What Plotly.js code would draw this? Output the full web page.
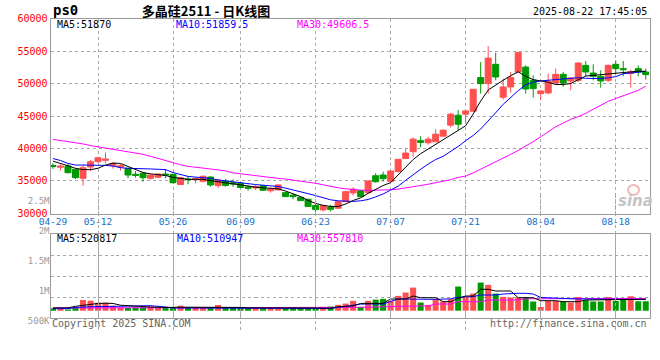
<!DOCTYPE html>
<html><head><meta charset="utf-8">
<script src="https://cdn.plot.ly/plotly-3.0.1.min.js"></script>
<style>html,body{margin:0;padding:0;background:#fff;}#chart{width:660px;height:360px;}</style>
</head><body><div id="chart"></div>
<script>
const dates = ['04-29','04-30','05-06','05-07','05-08','05-09','05-12','05-13','05-14','05-15','05-16','05-19','05-20','05-21','05-22','05-23','05-26','05-27','05-28','05-29','05-30','06-03','06-04','06-05','06-06','06-09','06-10','06-11','06-12','06-13','06-16','06-17','06-18','06-19','06-20','06-23','06-24','06-25','06-26','06-27','06-30','07-01','07-02','07-03','07-04','07-07','07-08','07-09','07-10','07-11','07-14','07-15','07-16','07-17','07-18','07-21','07-22','07-23','07-24','07-25','07-28','07-29','07-30','07-31','08-01','08-04','08-05','08-06','08-07','08-08','08-11','08-12','08-13','08-14','08-15','08-18','08-19','08-20','08-21','08-22'];
const open  = [37380,37120,37300,36800,35410,37150,37960,38180,37350,37150,36950,36030,36180,35410,35570,36070,36030,34460,35310,35200,34950,35610,34280,35000,34740,34650,34080,33930,34280,33510,33620,33200,32810,32500,32190,31240,30550,30980,30810,31820,33160,33510,33200,35810,35920,34950,36430,38450,39500,41210,40880,41030,41900,43590,45120,45280,45740,50910,49990,52950,47890,49470,51770,52530,50490,48450,48550,50080,51410,50390,50490,52790,51610,51110,50490,52950,52290,51520,52290,51770];
const high  = [37720,37560,37560,36890,37560,38220,38730,39400,37870,37610,36990,36530,36340,36030,36180,36840,36120,35610,35660,35610,35870,35690,35230,35310,35260,34740,34390,34390,34390,33970,34540,33310,33110,32550,32240,31500,31320,31320,31930,33510,34030,33620,35050,36180,36430,36640,38380,40110,41700,41900,41800,42980,42930,45480,45890,45780,49110,53300,55760,54740,50750,51770,54790,52790,51260,48960,51520,52290,51770,51000,53300,53460,52950,52030,52950,53560,53460,52140,52790,52290];
const low   = [36840,36580,36180,35310,34280,36530,37800,37720,36900,36580,35410,35510,34890,35200,35410,35410,34620,34390,34490,34650,34800,34130,33880,34130,34130,33880,33510,33620,33470,33200,33510,32550,32190,31930,31010,30300,30290,30290,30700,31780,32750,32550,33110,34740,34890,34890,36380,38380,38730,40170,40600,41030,41800,43240,42820,43940,45630,48450,48450,50490,47530,48610,51770,48450,47840,47430,48350,49990,49470,48960,50230,51110,50490,49370,50230,51520,51110,49370,51110,50600];
const close = [37220,37270,36270,35510,37040,37960,38570,38380,37720,37350,35920,35870,35510,35920,36070,35920,34740,35510,35200,35380,35720,34390,35150,34310,34540,34000,33880,34130,33570,33770,34390,32590,32590,31980,31060,30600,31210,30630,31820,33360,33730,32590,35000,34890,35350,36530,38330,39300,41440,40940,41440,42210,42820,45280,43740,45780,49110,49990,53910,51000,49470,50910,54790,49160,49220,48850,50340,51410,50080,50850,53150,51770,51110,50390,52790,52290,52140,51770,51770,51370];
const ma5  = [38050,37750,37350,36950,36750,36750,36950,37450,37750,37700,37200,36700,36300,36100,35920,35850,35550,35400,35250,35250,35250,35050,34850,34700,34550,34400,34200,34050,33950,33850,33800,33450,33000,32600,32000,31550,31250,31080,31080,31450,32000,32400,33100,33700,34300,34750,35900,37100,38300,39200,39900,40600,41300,42100,42700,43500,45300,47300,49000,49800,50500,51200,51800,51100,50600,50400,50200,49850,49850,50000,50600,51150,51250,51350,51400,51600,51700,51770,51900,51870];
const ma10 = [38450,38150,37700,37450,37450,37450,37450,37400,37300,37050,36950,36950,36900,36850,36800,36750,36300,35950,35700,35600,35500,35400,35150,35000,34800,34650,34550,34450,34350,34250,34150,33900,33650,33350,33050,32750,32400,32100,31950,31850,31850,31950,32150,32550,33000,33600,34200,35100,36000,36800,37600,38300,38800,39500,40300,41200,42000,43000,44200,45500,46800,47900,48900,49800,50200,50400,50500,50600,50650,50800,50900,50800,50750,50750,50900,51050,51500,51600,51700,51860];
const ma30 = [41400,41250,41100,40900,40700,40450,40250,40100,39950,39750,39550,39300,39100,38800,38450,38150,37800,37500,37250,37080,36950,36850,36700,36550,36250,36100,35980,35800,35650,35450,35400,35300,35100,34950,34800,34650,34400,34200,33950,33800,33650,33600,33550,33550,33580,33650,33750,33900,34050,34300,34500,34700,34950,35200,35550,35750,36250,36800,37350,37900,38500,39100,39700,40350,41050,41800,42600,43350,43900,44500,44900,45400,46050,46700,47250,47700,48150,48550,48950,49600];
const volume = [115000,115000,50000,174000,490000,450000,360000,360000,220000,150000,130000,160000,174000,205000,130000,174000,174000,220000,174000,174000,174000,174000,265000,130000,174000,130000,115000,115000,115000,130000,83000,115000,115000,115000,115000,110000,174000,188000,265000,324000,447000,174000,447000,506000,538000,447000,674000,825000,1052000,370000,265000,524000,415000,524000,1098000,629000,779000,1280000,1175000,779000,629000,597000,597000,597000,415000,174000,447000,447000,415000,370000,629000,479000,415000,415000,629000,440000,580000,660000,430000,430000];
const volMa5 = [130000,130000,130000,200000,250000,310000,330000,340000,330000,250000,240000,200000,190000,160000,150000,150000,150000,160000,160000,160000,160000,160000,170000,160000,160000,150000,130000,125000,125000,125000,125000,125000,125000,125000,125000,130000,120000,115000,180000,214000,214000,330000,337000,337000,337000,532000,532000,532000,669000,591000,591000,591000,410000,410000,560000,669000,669000,974000,974000,896000,896000,896000,591000,591000,591000,455000,455000,455000,410000,410000,410000,487000,487000,487000,487000,487000,487000,519000,519000,520817];
const volMa10 = [90000,90000,95000,150000,180000,180000,185000,190000,190000,200000,215000,228000,228000,228000,200000,160000,130000,125000,125000,125000,125000,125000,125000,125000,125000,125000,120000,120000,120000,120000,120000,120000,115000,110000,105000,100000,95000,100000,150000,200000,260000,300000,305000,305000,305000,420000,532000,532000,519000,519000,519000,519000,519000,540000,610000,610000,640000,714000,714000,714000,760000,792000,792000,792000,760000,600000,580000,580000,540000,532000,532000,532000,532000,532000,532000,532000,532000,520000,515000,510947];
const volMa30 = [125000,125000,125000,125000,125000,125000,125000,125000,125000,125000,125000,125000,125000,125000,125000,125000,125000,125000,125000,125000,125000,130000,130000,130000,130000,130000,130000,130000,130000,130000,130000,130000,130000,130000,130000,130000,130000,150000,155000,155000,155000,155000,160000,170000,190000,214000,214000,214000,214000,214000,214000,305000,305000,305000,410000,410000,410000,410000,487000,487000,487000,487000,487000,540000,546000,546000,546000,548000,548000,550000,550000,552000,552000,554000,554000,555000,556000,557000,557000,557810];
const dateTicks = ['04-29','05-12','05-26','06-09','06-23','07-07','07-21','08-04','08-18'];
const gridDates = ['05-12','05-26','06-09','06-23','07-07','07-21','08-04','08-18'];
const priceTicks = [30000,35000,40000,45000,50000,55000,60000];
const volLabelVals = [500000,1000000,1500000,2000000,2500000];
const volLabelText = ['500K','1M','1.5M','2M','2.5M'];
const volGridVals = [500000,1000000,1500000];
const legendPrice = ['MA5:51870','MA10:51859.5','MA30:49606.5'];
const legendVol = ['MA5:520817','MA10:510947','MA30:557810'];

const W = 660, H = 360;
const px = v => v / W, py = v => 1 - v / H;
const idx = dates.map((d, i) => i);
const RED = '#ff5050', GREEN = '#009a00';
const mono = 'DejaVu Sans Mono';
const xDom = [px(50.5), px(649.5)];
const xRange = [-0.33, 79.5];
const gridIdx = gridDates.map(d => dates.indexOf(d));
const labelIdx = dateTicks.map(d => dates.indexOf(d));
const GRIDC = '#a8a8a8';
const frame = {showline: true, mirror: true, linecolor: '#9a9a9a', linewidth: 1, zeroline: false};
const xMinorGrid = {tickmode: 'array', tickvals: gridIdx, showgrid: true, gridcolor: GRIDC, griddash: 'dot', gridwidth: 1, ticks: ''};

const hidden = {mode: 'markers', marker: {opacity: 0, size: 1}, hoverinfo: 'skip'};
const traces = [
  {type: 'candlestick', x: idx, open: open, high: high, low: low, close: close,
   xaxis: 'x', yaxis: 'y', whiskerwidth: 0, hoverinfo: 'skip',
   increasing: {line: {color: RED, width: 1}, fillcolor: RED},
   decreasing: {line: {color: GREEN, width: 1}, fillcolor: GREEN}},
  {type: 'scatter', mode: 'lines', x: idx, y: ma30, xaxis: 'x', yaxis: 'y', line: {color: '#ff00ff', width: 1}, hoverinfo: 'skip'},
  {type: 'scatter', mode: 'lines', x: idx, y: ma10, xaxis: 'x', yaxis: 'y', line: {color: '#0000ff', width: 1}, hoverinfo: 'skip'},
  {type: 'scatter', mode: 'lines', x: idx, y: ma5, xaxis: 'x', yaxis: 'y', line: {color: '#000000', width: 1}, hoverinfo: 'skip'},
  Object.assign({type: 'scatter', x: idx, y: volume, xaxis: 'x2', yaxis: 'y3'}, hidden),
  Object.assign({type: 'scatter', x: idx, y: volume, xaxis: 'x2', yaxis: 'y4'}, hidden),
  {type: 'bar', x: idx, y: volume, xaxis: 'x2', yaxis: 'y2', hoverinfo: 'skip',
   marker: {color: close.map((c, i) => c >= open[i] ? RED : GREEN), line: {width: 0}}},
  {type: 'scatter', mode: 'lines', x: idx, y: volMa30, xaxis: 'x2', yaxis: 'y2', line: {color: '#ff00ff', width: 1}, hoverinfo: 'skip'},
  {type: 'scatter', mode: 'lines', x: idx, y: volMa10, xaxis: 'x2', yaxis: 'y2', line: {color: '#0000ff', width: 1}, hoverinfo: 'skip'},
  {type: 'scatter', mode: 'lines', x: idx, y: volMa5, xaxis: 'x2', yaxis: 'y2', line: {color: '#000000', width: 1}, hoverinfo: 'skip'}
];

function note(text, x, y, color, anchor, size, family) {
  return {text: text, xref: 'paper', yref: 'paper', x: px(x), y: py(y), xanchor: anchor, yanchor: 'middle',
    showarrow: false, font: {family: family || mono, size: size || 10, color: color}};
}

const layout = {
  width: W, height: H, margin: {l: 0, r: 0, t: 0, b: 0},
  paper_bgcolor: '#ffffff', plot_bgcolor: 'rgba(0,0,0,0)', showlegend: false,
  boxgap: 0.2, boxgroupgap: 0, bargap: 0.2,
  title: {text: '<b>多晶硅2511 - 日K线图</b>', x: px(206), xanchor: 'center', y: py(11), yanchor: 'middle',
          font: {family: 'Noto Sans CJK SC', size: 13, color: '#000'}},
  xaxis: Object.assign({domain: xDom, anchor: 'y', range: xRange, tickmode: 'array', tickvals: labelIdx, ticktext: dateTicks,
          showgrid: false, ticks: '', ticklabelstandoff: -1, minor: xMinorGrid, rangeslider: {visible: false},
          tickfont: {family: mono, size: 9.5, color: '#1470cc'}}, frame),
  yaxis: Object.assign({domain: [py(213.5), py(18.5)], anchor: 'x', range: [29995, 60005], tickmode: 'array', tickvals: priceTicks,
          ticktext: priceTicks.map(String), ticks: '', ticklabelshift: -2.5,
          showgrid: true, gridcolor: GRIDC, griddash: 'dot', gridwidth: 1,
          tickfont: {family: mono, size: 10, color: '#ff0000'}}, frame),
  xaxis2: Object.assign({domain: xDom, anchor: 'y2', range: xRange, tickmode: 'array', tickvals: gridIdx,
          showticklabels: false, ticks: '', showgrid: true, gridcolor: GRIDC, griddash: 'dot', gridwidth: 1}, frame),
  yaxis2: Object.assign({domain: [py(318), py(234)], anchor: 'x2', range: [-332000, 3490000],
          showgrid: false, showticklabels: false, ticks: ''}, frame),
  yaxis3: {overlaying: 'y2', anchor: 'x2', range: [0, 2000000], tickmode: 'array', tickvals: volGridVals,
          showticklabels: false, ticks: '', zeroline: false, showline: false,
          showgrid: true, gridcolor: GRIDC, griddash: 'dot', gridwidth: 1},
  yaxis4: {domain: [py(330), py(195)], anchor: 'x2', range: [350000, 2600000], tickmode: 'array', tickvals: volLabelVals,
          ticktext: volLabelText, showgrid: false, zeroline: false, showline: false, ticks: '',
          tickfont: {family: mono, size: 9, color: '#9a9a9a'}},
  shapes: [
    {type: 'circle', xref: 'paper', yref: 'paper', x0: px(628), x1: px(639), y0: py(195), y1: py(185),
     line: {color: '#f2b8b8', width: 2}, fillcolor: 'rgba(0,0,0,0)'}
  ],
  annotations: [
    note('<b>ps0</b>', 51, 10, '#000', 'left', 14),
    note('2025-08-22 17:45:05', 649, 12, '#000', 'right', 10),
    note(legendPrice[0], 55, 24.5, '#000000', 'left'),
    note(legendPrice[1], 174, 24.5, '#0000ff', 'left'),
    note(legendPrice[2], 295, 24.5, '#ff00ff', 'left'),
    note(legendVol[0], 55, 238, '#000000', 'left'),
    note(legendVol[1], 175, 238, '#0000ff', 'left'),
    note(legendVol[2], 295, 238, '#ff00ff', 'left'),
    note('Copyright 2025 SINA.COM', 50, 323.5, '#666666', 'left'),
    note('http://finance.sina.com.cn', 649, 323.5, '#666666', 'right'),
    note('<b><i>sina</i></b>', 635, 201, '#c4c4c4', 'center', 15, 'DejaVu Sans')
  ]
};

Plotly.newPlot('chart', traces, layout, {staticPlot: true, displayModeBar: false});
</script>
</body></html>
